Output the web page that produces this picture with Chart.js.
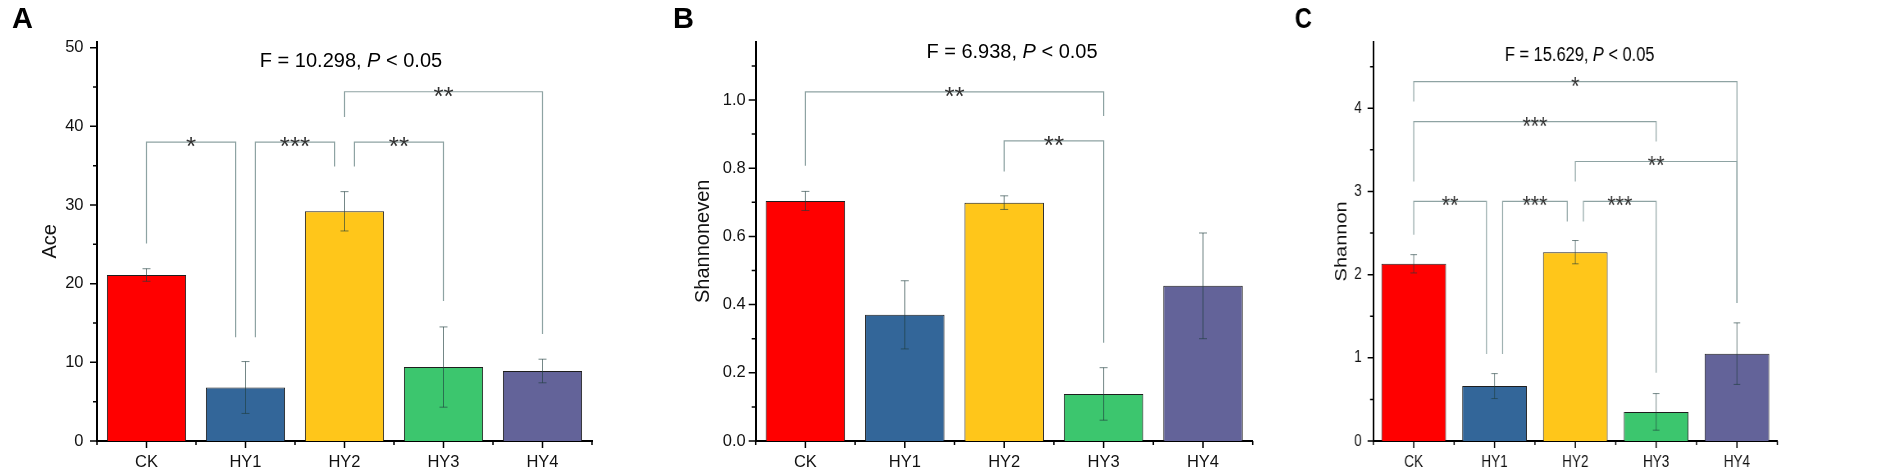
<!DOCTYPE html>
<html>
<head>
<meta charset="utf-8">
<script src="https://cdn.jsdelivr.net/npm/chart.js@4.4.0/dist/chart.umd.min.js"></script>
<style>
  body { margin: 0; background: #fff; width: 1901px; height: 474px; overflow: hidden; position: relative; }
  canvas { position: absolute; top: 0; transform-origin: 0 0; }
</style>
</head>
<body>
<canvas id="panelA" width="600" height="474"></canvas>
<canvas id="panelB" width="620" height="474"></canvas>
<canvas id="panelC" width="620" height="474"></canvas>
<script>
const groups = ["CK", "HY1", "HY2", "HY3", "HY4"];
const groupColors = ["#ff0000", "#336699", "#ffc61a", "#3cc66e", "#636399"];

const aceMean = [21.1, 6.8, 29.2, 9.4, 8.9];
const aceSd = [0.8, 3.3, 2.5, 5.1, 1.5];
const evenMean = [0.704, 0.370, 0.699, 0.138, 0.455];
const evenSd = [0.028, 0.100, 0.020, 0.077, 0.155];
const shannonMean = [2.13, 0.66, 2.27, 0.35, 1.05];
const shannonSd = [0.11, 0.15, 0.14, 0.22, 0.37];

const fStats = ["10.298", "6.938", "15.629"];

// [from, to, stars, bracket level, from-leg bottom, to-leg bottom]
const aceBrackets = [
  ["CK", "HY1", "*", 38.0, 25.1, 13.2],
  ["HY1", "HY2", "***", 38.0, 13.2, 34.9],
  ["HY2", "HY3", "**", 38.0, 34.9, 17.8],
  ["HY2", "HY4", "**", 44.4, 41.2, 13.6],
];
const evenBrackets = [
  ["CK", "HY3", "**", 1.024, 0.807, 0.953],
  ["HY2", "HY3", "**", 0.88, 0.79, 0.288],
];
const shannonBrackets = [
  ["CK", "HY4", "*", 4.32, 4.08, 1.66],
  ["CK", "HY3", "***", 3.84, 3.12, 3.6],
  ["HY2", "HY4", "**", 3.36, 3.12, 1.66],
  ["CK", "HY1", "**", 2.88, 2.48, 1.045],
  ["HY1", "HY2", "***", 2.88, 1.045, 2.64],
  ["HY2", "HY3", "***", 2.88, 2.64, 0.82],
];

const FONT = "'Liberation Sans', Arial, sans-serif";

// layout numbers are canvas pixels (panel C is squeezed horizontally afterwards)
const panels = [
  { id: "panelA", letter: "A", yTitle: "Ace", mean: aceMean, sd: aceSd, brackets: aceBrackets, f: fStats[0],
    yMax: 50.76, yStep: 10, decimals: 0,
    left: 0, squeeze: 1, areaLeft: 97, areaRight: 592, titlePad: 38, tickPad: 13.5,
    letterX: 12, fCenter: 351, fBaseline: 66.7 },
  { id: "panelB", letter: "B", yTitle: "Shannoneven", mean: evenMean, sd: evenSd, brackets: evenBrackets, f: fStats[1],
    yMax: 1.171, yStep: 0.2, decimals: 1,
    left: 640, squeeze: 1, areaLeft: 115.7, areaRight: 612.7, titlePad: 51.3, tickPad: 10,
    letterX: 33, fCenter: 372, fBaseline: 58.3 },
  { id: "panelC", letter: "C", yTitle: "Shannon", mean: shannonMean, sd: shannonSd, brackets: shannonBrackets, f: fStats[2],
    yMax: 4.8, yStep: 1, decimals: 0,
    left: 1280, squeeze: 0.82, areaLeft: 113.8, areaRight: 606.5, titlePad: 63.2, tickPad: 14,
    letterX: 18, fCenter: 365.5, fBaseline: 61 },
];

const AREA_TOP = 41.7;
const AREA_BOTTOM = 441;

const decorations = {
  id: "decorations",
  afterDatasetsDraw(chart, args, opts) {
    const p = opts.panel;
    const { ctx, scales: { x, y } } = chart;
    ctx.save();

    // error bars
    ctx.strokeStyle = "rgba(30, 62, 62, 0.62)";
    ctx.lineWidth = 1;
    p.mean.forEach((m, i) => {
      const cx = x.getPixelForValue(i);
      const hi = y.getPixelForValue(m + p.sd[i]);
      const lo = y.getPixelForValue(m - p.sd[i]);
      ctx.beginPath();
      ctx.moveTo(cx, hi); ctx.lineTo(cx, lo);
      ctx.moveTo(cx - 4, hi); ctx.lineTo(cx + 4, hi);
      ctx.moveTo(cx - 4, lo); ctx.lineTo(cx + 4, lo);
      ctx.stroke();
    });

    // significance brackets
    ctx.strokeStyle = "#8ea3a3";
    ctx.lineWidth = 1.2;
    ctx.fillStyle = "#333";
    ctx.font = "26px " + FONT;
    ctx.textAlign = "center";
    ctx.textBaseline = "alphabetic";
    p.brackets.forEach((br) => {
      const [from, to, stars, level, fromBottom, toBottom] = br;
      const shared = (g) => p.brackets.some((o) => o !== br && o[3] === level && (o[0] === g || o[1] === g));
      const x1 = x.getPixelForValue(groups.indexOf(from) + (shared(from) ? 0.1 : 0));
      const x2 = x.getPixelForValue(groups.indexOf(to) - (shared(to) ? 0.1 : 0));
      const yl = y.getPixelForValue(level);
      ctx.beginPath();
      ctx.moveTo(x1, y.getPixelForValue(fromBottom));
      ctx.lineTo(x1, yl);
      ctx.lineTo(x2, yl);
      ctx.lineTo(x2, y.getPixelForValue(toBottom));
      ctx.stroke();
      const m = ctx.measureText(stars);
      ctx.fillText(stars, (x1 + x2) / 2, yl + (m.actualBoundingBoxAscent - m.actualBoundingBoxDescent) / 2);
    });
    ctx.restore();
  },
  afterDraw(chart, args, opts) {
    const p = opts.panel;
    const { ctx, chartArea, scales: { x, y } } = chart;
    ctx.save();

    // tick marks, major and minor, pointing outward
    ctx.strokeStyle = "#000";
    ctx.lineWidth = 1.5;
    ctx.beginPath();
    for (let v = 0; v <= p.yMax + 1e-9; v += p.yStep / 2) {
      const isMajor = Math.abs(v / p.yStep - Math.round(v / p.yStep)) < 1e-6;
      const py = y.getPixelForValue(v);
      ctx.moveTo(chartArea.left, py);
      ctx.lineTo(chartArea.left - (isMajor ? 7 : 4), py);
    }
    for (let i = -0.5; i <= groups.length - 0.5; i += 0.5) {
      const isMajor = Number.isInteger(i);
      const px = x.getPixelForValue(i);
      ctx.moveTo(px, chartArea.bottom);
      ctx.lineTo(px, chartArea.bottom + (isMajor ? 7 : 4));
    }
    ctx.stroke();

    // panel letter
    ctx.fillStyle = "#000";
    ctx.textAlign = "left";
    ctx.textBaseline = "alphabetic";
    ctx.font = "bold 29px " + FONT;
    ctx.fillText(p.letter, p.letterX, 28);

    // F statistic line with italic P
    const parts = [["F = " + p.f + ", ", ""], ["P", "italic "], [" < 0.05", ""]];
    const widths = parts.map(([t, st]) => {
      ctx.font = st + "20px " + FONT;
      return ctx.measureText(t).width;
    });
    let tx = p.fCenter - widths.reduce((a, b) => a + b, 0) / 2;
    parts.forEach(([t, st], k) => {
      ctx.font = st + "20px " + FONT;
      ctx.fillText(t, tx, p.fBaseline);
      tx += widths[k];
    });
    ctx.restore();
  },
};

panels.forEach((p) => {
  const canvas = document.getElementById(p.id);
  canvas.style.left = p.left + "px";
  if (p.squeeze !== 1) canvas.style.transform = "scaleX(" + p.squeeze + ")";

  new Chart(canvas, {
    type: "bar",
    data: {
      labels: groups,
      datasets: [{
        data: p.mean,
        backgroundColor: groupColors,
        borderColor: "#1e1e1e",
        borderWidth: 1,
        categoryPercentage: 1,
        barPercentage: 0.8,
      }],
    },
    plugins: [decorations],
    options: {
      responsive: false,
      animation: false,
      devicePixelRatio: 1,
      layout: { padding: { top: AREA_TOP, right: canvas.width - p.areaRight, bottom: 0, left: 0 } },
      plugins: {
        legend: { display: false },
        tooltip: { enabled: false },
        decorations: { panel: p },
      },
      scales: {
        x: {
          grid: { display: false, drawTicks: false },
          border: { display: true, color: "#000", width: 2 },
          ticks: { color: "#111", padding: 12, font: { family: FONT, size: 16.5 } },
          afterFit: (s) => { s.height = canvas.height - AREA_BOTTOM; },
        },
        y: {
          min: 0,
          max: p.yMax,
          grid: { display: false, drawTicks: false },
          border: { display: true, color: "#000", width: 2 },
          ticks: {
            stepSize: p.yStep,
            includeBounds: false,
            color: "#111",
            padding: p.tickPad,
            font: { family: FONT, size: 16.5 },
            callback: (v) => v.toFixed(p.decimals),
          },
          title: {
            display: true,
            text: p.yTitle,
            color: "#111",
            font: { family: FONT, size: 20 },
            padding: { top: p.titlePad, bottom: 0 },
          },
          afterFit: (s) => { s.width = p.areaLeft; },
        },
      },
    },
  });
});
</script>
</body>
</html>
